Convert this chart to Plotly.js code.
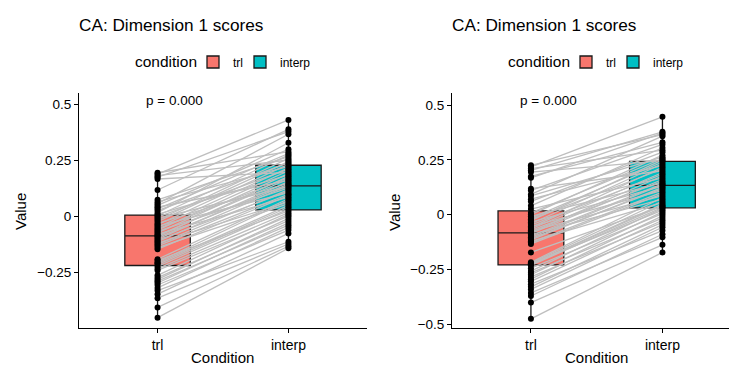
<!DOCTYPE html>
<html><head><meta charset="utf-8">
<script src="https://cdn.plot.ly/plotly-3.0.1.min.js"></script>
<style>html,body{margin:0;padding:0;background:#fff}#plot{width:729px;height:365px}</style>
</head><body><div id="plot"></div>
<script>
const conditions = ['trl', 'interp'];
const titleText = 'CA: Dimension 1 scores';
const legendTitle = 'condition';
const pText = 'p = 0.000';

// Left panel: paired scores per subject
const leftTrl = [0.196,0.190,0.183,0.176,0.168,0.119,0.075,0.066,0.058,0.050,0.042,0.035,0.027,0.018,0.010,
  0.004,-0.002,-0.008,-0.015,-0.022,-0.030,-0.036,-0.042,-0.048,-0.055,-0.060,-0.066,-0.072,-0.078,-0.084,
  -0.088,-0.094,-0.100,-0.106,-0.112,-0.118,-0.124,-0.130,-0.138,-0.145,-0.190,-0.196,-0.203,-0.208,-0.214,
  -0.222,-0.232,-0.240,-0.262,-0.272,-0.280,-0.288,-0.296,-0.305,-0.318,-0.330,-0.346,-0.364,-0.405,-0.451];
const leftInterp = [0.290,0.432,0.253,0.380,0.198,0.390,0.268,0.225,0.368,0.301,0.162,0.282,0.240,0.330,0.186,
  0.275,0.212,0.134,0.260,0.246,0.150,0.234,0.107,0.218,0.174,0.205,0.128,0.192,0.087,0.168,
  0.180,0.145,0.156,0.114,0.140,0.066,0.121,0.100,0.058,0.094,0.080,0.026,0.073,0.050,0.042,
  0.034,0.018,0.002,0.010,-0.018,-0.008,-0.038,-0.028,-0.060,-0.048,-0.112,-0.075,-0.122,-0.132,-0.141];

// Right panel
const rightTrl = [0.225,0.218,0.210,0.202,0.194,0.174,0.168,0.118,0.110,0.092,0.085,0.070,0.060,0.040,0.025,
  0.008,0.000,-0.008,-0.016,-0.022,-0.028,-0.035,-0.042,-0.048,-0.055,-0.060,-0.066,-0.072,-0.077,-0.081,
  -0.086,-0.092,-0.098,-0.104,-0.110,-0.116,-0.122,-0.128,-0.134,-0.173,-0.218,-0.222,-0.225,-0.227,-0.228,
  -0.232,-0.245,-0.258,-0.266,-0.275,-0.285,-0.295,-0.305,-0.318,-0.330,-0.342,-0.358,-0.372,-0.402,-0.476];
const rightInterp = [0.365,0.446,0.294,0.378,0.246,0.330,0.372,0.200,0.320,0.358,0.262,0.224,0.285,0.305,0.168,
  0.256,0.271,0.145,0.240,0.208,0.250,0.130,0.232,0.184,0.110,0.216,0.192,0.152,0.086,0.176,
  0.160,0.070,0.140,0.136,0.118,0.124,0.055,0.102,0.094,0.037,0.078,0.062,0.020,0.048,0.042,
  0.033,0.004,0.028,-0.016,0.012,-0.036,-0.006,-0.026,-0.073,-0.046,-0.058,-0.104,-0.090,-0.138,-0.173];

const yTicksLeft = [-0.25, 0, 0.25, 0.5];
const yTickTextLeft = ['\u22120.25', '0', '0.25', '0.5'];
const yTicksRight = [-0.5, -0.25, 0, 0.25, 0.5];
const yTickTextRight = ['\u22120.5', '\u22120.25', '0', '0.25', '0.5'];

const fillColors = ['#F8766D', '#00BFC4'];
const FONT = 'Liberation Sans, Arial, sans-serif';

function panel(trl, interp, xa, ya, legendNames) {
  const traces = [];
  const vals = [trl, interp];
  conditions.forEach((c, i) => {
    traces.push({
      type: 'box', name: c, x: vals[i].map(() => i + 1), y: vals[i],
      xaxis: xa, yaxis: ya, legend: legendNames[i],
      width: 0.5, boxpoints: false, whiskerwidth: 0,
      fillcolor: fillColors[i], line: {color: '#1a1a1a', width: 1.3},
      hoverinfo: 'skip', showlegend: true
    });
  });
  const lx = [], ly = [];
  for (let k = 0; k < trl.length; k++) { lx.push(1, 2, null); ly.push(trl[k], interp[k], null); }
  traces.push({type: 'scatter', mode: 'lines', x: lx, y: ly, xaxis: xa, yaxis: ya,
    line: {color: '#BEBEBE', width: 1.3}, showlegend: false, hoverinfo: 'skip'});
  const px = [], py = [];
  for (let k = 0; k < trl.length; k++) { px.push(1); py.push(trl[k]); }
  for (let k = 0; k < interp.length; k++) { px.push(2); py.push(interp[k]); }
  traces.push({type: 'scatter', mode: 'markers', x: px, y: py, xaxis: xa, yaxis: ya,
    marker: {color: '#000000', size: 6}, showlegend: false, hoverinfo: 'skip'});
  return traces;
}

const data = [].concat(
  panel(leftTrl, leftInterp, 'x', 'y', ['legend', 'legend3']),
  panel(rightTrl, rightInterp, 'x2', 'y2', ['legend2', 'legend4'])
);

const W = 729, TOP = 93, H = 235;
const py = v => (TOP + H - v) / H;   // pixel row -> paper y
const axX = {
  showgrid: false, zeroline: false, showline: true, linecolor: '#000', linewidth: 1,
  ticks: 'outside', ticklen: 4, tickcolor: '#000', tickwidth: 1,
  tickvals: [1, 2], ticktext: conditions, tickfont: {family: FONT, size: 14, color: '#000'},
  fixedrange: true
};
const axY = {
  showgrid: false, zeroline: false, showline: true, linecolor: '#000', linewidth: 1,
  ticks: 'outside', ticklen: 4, tickcolor: '#000', tickwidth: 1,
  tickfont: {family: FONT, size: 13.5, color: '#000'}, fixedrange: true
};
const legendBase = {
  orientation: 'h', yanchor: 'middle', xanchor: 'left', y: py(62),
  font: {family: FONT, size: 12, color: '#000'},
  bgcolor: 'rgba(0,0,0,0)', itemwidth: 30, tracegroupgap: 0
};

const layout = {
  width: 729, height: 365,
  margin: {l: 0, r: 0, t: TOP, b: 365 - TOP - H},
  paper_bgcolor: '#fff', plot_bgcolor: '#fff',
  font: {family: FONT},
  xaxis: Object.assign({}, axX, {domain: [79 / W, 367 / W], range: [0.4, 2.6], anchor: 'y'}),
  yaxis: Object.assign({}, axY, {domain: [0, 1], range: [-0.497, 0.552], tickvals: yTicksLeft, ticktext: yTickTextLeft, anchor: 'x'}),
  xaxis2: Object.assign({}, axX, {domain: [452 / W, 1], range: [0.4, 2.506], anchor: 'y2'}),
  yaxis2: Object.assign({}, axY, {domain: [0, 1], range: [-0.518, 0.555], tickvals: yTicksRight, ticktext: yTickTextRight, anchor: 'x2'}),
  legend: Object.assign({}, legendBase, {x: 193 / W}),
  legend3: Object.assign({}, legendBase, {x: 240 / W}),
  legend2: Object.assign({}, legendBase, {x: 566 / W}),
  legend4: Object.assign({}, legendBase, {x: 613 / W}),
  showlegend: true,
  annotations: [
    {xref: 'paper', yref: 'paper', x: 77 / W, y: py(25), xanchor: 'left', yanchor: 'middle',
     text: titleText, showarrow: false, font: {family: FONT, size: 17.2, color: '#000'}},
    {xref: 'paper', yref: 'paper', x: 450 / W, y: py(25), xanchor: 'left', yanchor: 'middle',
     text: titleText, showarrow: false, font: {family: FONT, size: 17.2, color: '#000'}},
    {xref: 'paper', yref: 'paper', x: 133 / W, y: py(62), xanchor: 'left', yanchor: 'middle',
     text: legendTitle, showarrow: false, font: {family: FONT, size: 15.5, color: '#000'}},
    {xref: 'paper', yref: 'paper', x: 506 / W, y: py(62), xanchor: 'left', yanchor: 'middle',
     text: legendTitle, showarrow: false, font: {family: FONT, size: 15.5, color: '#000'}},
    {xref: 'x', yref: 'y', x: 1.13, y: 0.52, text: pText, showarrow: false, xanchor: 'center',
     font: {family: FONT, size: 13.5, color: '#000'}},
    {xref: 'x2', yref: 'y2', x: 1.13, y: 0.523, text: pText, showarrow: false, xanchor: 'center',
     font: {family: FONT, size: 13.5, color: '#000'}},
    {xref: 'paper', yref: 'paper', x: 222 / W, y: py(357), xanchor: 'center', yanchor: 'middle',
     text: 'Condition', showarrow: false, font: {family: FONT, size: 15, color: '#000'}},
    {xref: 'paper', yref: 'paper', x: 596 / W, y: py(357), xanchor: 'center', yanchor: 'middle',
     text: 'Condition', showarrow: false, font: {family: FONT, size: 15, color: '#000'}},
    {xref: 'paper', yref: 'paper', x: 20 / W, y: py(212), xanchor: 'center', yanchor: 'middle', textangle: -90,
     text: 'Value', showarrow: false, font: {family: FONT, size: 15, color: '#000'}},
    {xref: 'paper', yref: 'paper', x: 394 / W, y: py(212), xanchor: 'center', yanchor: 'middle', textangle: -90,
     text: 'Value', showarrow: false, font: {family: FONT, size: 15, color: '#000'}}
  ]
};

Plotly.newPlot('plot', data, layout, {displayModeBar: false, staticPlot: true});
</script></body></html>
